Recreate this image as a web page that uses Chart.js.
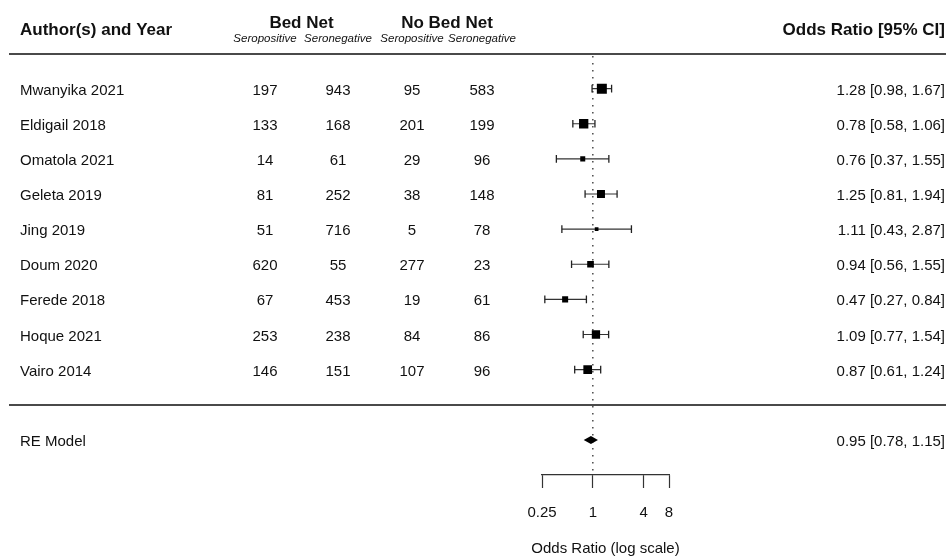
<!DOCTYPE html>
<html>
<head>
<meta charset="utf-8">
<script src="https://cdn.jsdelivr.net/npm/chart.js@4.4.1/dist/chart.umd.min.js"></script>
<style>
  html, body { margin: 0; padding: 0; background: #fff; }
</style>
</head>
<body>
<canvas id="forest" width="950" height="556"></canvas>
<script>
// Data
const studies = ['Mwanyika 2021', 'Eldigail 2018', 'Omatola 2021', 'Geleta 2019', 'Jing 2019',
                 'Doum 2020', 'Ferede 2018', 'Hoque 2021', 'Vairo 2014'];
const bedNetPos = [197, 133, 14, 81, 51, 620, 67, 253, 146];
const bedNetNeg = [943, 168, 61, 252, 716, 55, 453, 238, 151];
const noNetPos = [95, 201, 29, 38, 5, 277, 19, 84, 107];
const noNetNeg = [583, 199, 96, 148, 78, 23, 61, 86, 96];
const oddsRatio = [1.28, 0.78, 0.76, 1.25, 1.11, 0.94, 0.47, 1.09, 0.87];
const ciLower = [0.98, 0.58, 0.37, 0.81, 0.43, 0.56, 0.27, 0.77, 0.61];
const ciUpper = [1.67, 1.06, 1.55, 1.94, 2.87, 1.55, 0.84, 1.54, 1.24];
// study weights (%), estimated from the square sizes
const studyWeights = [17.3, 15.7, 5.9, 12.7, 2.9, 9.7, 8.2, 13.4, 14.3];
const pooledLabel = 'RE Model';
const pooledEstimate = [0.95, 0.78, 1.15]; // OR, lower, upper
const xTicks = [0.25, 1, 4, 8];
const xTitle = 'Odds Ratio (log scale)';

const FONT = "'Liberation Sans', Arial, Helvetica, sans-serif";
const TXT = '#111';
const pooledRow = studies.length + 2;
const axisRow = studies.length + 3;

// square side from weight (linear like metafor)
const wMin = Math.min(...studyWeights), wMax = Math.max(...studyWeights);
const sideFor = w => 3.7 + (w - wMin) / (wMax - wMin) * 6.3;

const fmt = v => v.toFixed(2);

const squares = {
  type: 'scatter',
  data: oddsRatio.map((v, i) => ({ x: v, y: i + 1 })),
  pointStyle: 'rect',
  pointRadius: studyWeights.map(w => sideFor(w) / 2 / Math.SQRT1_2),
  backgroundColor: '#000',
  borderColor: '#000',
  borderWidth: 0,
  order: 0
};

const ciSets = studies.map((s, i) => ({
  type: 'line',
  data: [{ x: ciLower[i], y: i + 1 }, { x: ciUpper[i], y: i + 1 }],
  borderColor: '#333',
  borderWidth: 1.2,
  pointStyle: 'line',
  pointRotation: 90,
  pointRadius: 3.8,
  pointBorderColor: '#222',
  pointBorderWidth: 1.3,
  order: 1
}));

const refLine = {
  type: 'line',
  data: [{ x: 1, y: 0.07 }, { x: 1, y: axisRow }],
  borderColor: '#555',
  borderWidth: 1.6,
  borderDash: [1.5, 5.5],
  pointRadius: 0,
  order: 2
};

// table text, separator lines, pooled diamond and axis title
const forestTable = {
  id: 'forestTable',
  afterDraw(chart) {
    const ctx = chart.ctx;
    const xs = chart.scales.x, ys = chart.scales.y;
    ctx.save();

    // RE diamond
    const py = ys.getPixelForValue(pooledRow);
    ctx.fillStyle = '#000';
    ctx.beginPath();
    ctx.moveTo(xs.getPixelForValue(pooledEstimate[1]), py);
    ctx.lineTo(xs.getPixelForValue(pooledEstimate[0]), py - 4);
    ctx.lineTo(xs.getPixelForValue(pooledEstimate[2]), py);
    ctx.lineTo(xs.getPixelForValue(pooledEstimate[0]), py + 4);
    ctx.closePath();
    ctx.fill();

    // separators
    ctx.strokeStyle = '#4a4a4a';
    ctx.lineWidth = 2;
    [0, studies.length + 1].forEach(r => {
      const ly = Math.round(ys.getPixelForValue(r));
      ctx.beginPath();
      ctx.moveTo(9, ly);
      ctx.lineTo(946, ly);
      ctx.stroke();
    });

    const top = ys.getPixelForValue(0);
    const cols = [265, 338, 412, 482];
    ctx.fillStyle = TXT;
    ctx.textBaseline = 'alphabetic';

    // headers
    ctx.font = 'bold 17px ' + FONT;
    ctx.textAlign = 'left';
    ctx.fillText('Author(s) and Year', 20, top - 19);
    ctx.textAlign = 'right';
    ctx.fillText('Odds Ratio [95% CI]', 945, top - 19);
    ctx.textAlign = 'center';
    ctx.fillText('Bed Net', (cols[0] + cols[1]) / 2, top - 26);
    ctx.fillText('No Bed Net', (cols[2] + cols[3]) / 2, top - 26);
    ctx.font = 'italic 11.5px ' + FONT;
    ['Seropositive', 'Seronegative', 'Seropositive', 'Seronegative'].forEach((t, k) => {
      ctx.fillText(t, cols[k], top - 12);
    });

    // rows
    ctx.font = '15px ' + FONT;
    studies.forEach((s, i) => {
      const ry = ys.getPixelForValue(i + 1) + 6;
      ctx.textAlign = 'left';
      ctx.fillText(s, 20, ry);
      ctx.textAlign = 'center';
      [bedNetPos[i], bedNetNeg[i], noNetPos[i], noNetNeg[i]].forEach((v, k) => {
        ctx.fillText(String(v), cols[k], ry);
      });
      ctx.textAlign = 'right';
      ctx.fillText(fmt(oddsRatio[i]) + ' [' + fmt(ciLower[i]) + ', ' + fmt(ciUpper[i]) + ']', 945, ry);
    });

    const ry = py + 6;
    ctx.textAlign = 'left';
    ctx.fillText(pooledLabel, 20, ry);
    ctx.textAlign = 'right';
    ctx.fillText(fmt(pooledEstimate[0]) + ' [' + fmt(pooledEstimate[1]) + ', ' + fmt(pooledEstimate[2]) + ']', 945, ry);

    // x axis title (drawn here so it isn't squeezed to the axis width)
    ctx.textAlign = 'center';
    ctx.fillText(xTitle, (chart.chartArea.left + chart.chartArea.right) / 2, 553);

    ctx.restore();
  }
};

new Chart(document.getElementById('forest'), {
  data: { datasets: [squares, ...ciSets, refLine] },
  options: {
    responsive: false,
    animation: false,
    layout: { padding: { left: 542, right: 281, top: 53.5, bottom: 0 } },
    plugins: { legend: { display: false }, tooltip: { enabled: false } },
    scales: {
      x: {
        type: 'logarithmic',
        min: 0.25,
        max: 8,
        afterBuildTicks: s => { s.ticks = xTicks.map(v => ({ value: v })); },
        afterFit: s => { s.height = 81; },
        ticks: {
          autoSkip: false,
          maxRotation: 0,
          padding: 16,
          color: TXT,
          font: { size: 15, family: FONT },
          callback: v => String(v)
        },
        grid: { drawOnChartArea: false, drawTicks: true, tickLength: 13, color: '#333', tickWidth: 1.2 },
        border: { display: true, color: '#333', width: 1.2 }
      },
      y: {
        type: 'linear',
        reverse: true,
        min: 0,
        max: axisRow,
        display: false
      }
    }
  },
  plugins: [forestTable]
});
</script>
</body>
</html>
